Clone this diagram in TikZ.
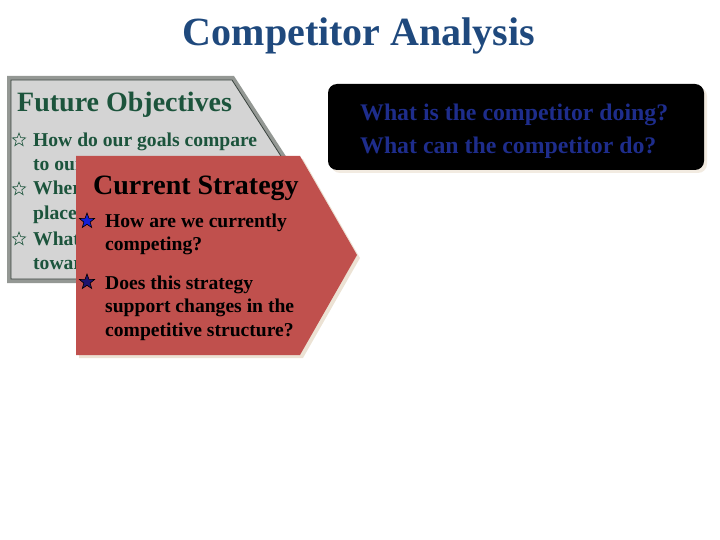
\documentclass[tikz,border=0pt]{standalone}
\usepackage{fontspec}
\setmainfont{Liberation Serif}
\usetikzlibrary{shapes.geometric}
\definecolor{titleblue}{RGB}{31,73,125}
\definecolor{fogreen}{RGB}{28,84,60}
\definecolor{bandgray}{RGB}{148,152,148}
\definecolor{edgedark}{RGB}{55,65,60}
\definecolor{boxgray}{RGB}{212,212,212}
\definecolor{cared}{RGB}{192,80,77}
\definecolor{shadowcream}{RGB}{236,226,212}
\definecolor{qblue}{RGB}{30,45,140}
\definecolor{starblue}{RGB}{20,30,215}
\definecolor{starnavy}{RGB}{30,20,110}
\tikzset{
  headtext/.style={anchor=base west,inner sep=0pt,font=\fontsize{28}{30}\selectfont\bfseries},
  bultext/.style={anchor=base west,inner sep=0pt,font=\fontsize{19.6}{24}\selectfont\bfseries},
  qtext/.style={anchor=base west,inner sep=0pt,text=qblue,font=\fontsize{23.8}{28}\selectfont\bfseries},
  hollowstar/.style={star,star points=5,star point ratio=2.4,minimum size=14pt,inner sep=0pt,draw=fogreen,line width=0.6pt},
  fullstar/.style={star,star points=5,star point ratio=2.4,minimum size=16pt,inner sep=0pt,draw=black,line width=0.6pt}
}
\begin{document}
\begin{tikzpicture}[x=1pt,y=-1pt]
\useasboundingbox (0,0) rectangle (720,540);
% title
\node[anchor=base,inner sep=0pt,text=titleblue,font=\fontsize{40}{44}\selectfont\bfseries] (title) at (359,46) {Competitor Analysis};
% future objectives box
\fill[bandgray] (7,76) -- (234,76) -- (301,179.5) -- (234,283) -- (7,283) -- cycle;
\draw[edgedark,fill=boxgray,line width=0.8pt] (11,80) -- (232,80) -- (296,179.5) -- (232,279) -- (11,279) -- cycle;
\node[headtext,text=fogreen] (fo) at (17,112) {Future Objectives};
\node[hollowstar] (s1) at (19,140) {};
\node[bultext,text=fogreen] (fo1) at (33,147) {How do our goals compare};
\node[bultext,text=fogreen] (fo2) at (33,171) {to our};
\node[hollowstar] (s2) at (19,189) {};
\node[bultext,text=fogreen] (fo3) at (33,195) {Where};
\node[bultext,text=fogreen] (fo4) at (33,219) {place};
\node[hollowstar] (s3) at (19,239) {};
\node[bultext,text=fogreen] (fo5) at (33,245) {What};
\node[bultext,text=fogreen] (fo6) at (33,269) {toward};
% current strategy box
\fill[shadowcream] (79,159) -- (303,159) -- (360,258) -- (303,358) -- (79,358) -- cycle;
\fill[cared] (76,156) -- (300,156) -- (357,255) -- (300,355) -- (76,355) -- cycle;
\node[headtext,text=black] (cs) at (93,195) {Current Strategy};
\node[fullstar,fill=starblue] (b1) at (87,221) {};
\node[bultext,text=black] (cs1) at (105,228) {How are we currently};
\node[bultext,text=black] (cs2) at (105,251) {competing?};
\node[fullstar,fill=starnavy] (b2) at (87,282) {};
\node[bultext,text=black] (cs3) at (105,289) {Does this strategy};
\node[bultext,text=black] (cs4) at (105,312) {support changes in the};
\node[bultext,text=black] (cs5) at (105,336) {competitive structure?};
% question box
\fill[shadowcream!70!white,rounded corners=9pt] (331,87) rectangle (707,173);
\fill[black,rounded corners=9pt] (328,84) rectangle (704,170);
\node[qtext] (q1) at (360,121) {What is the competitor doing?};
\node[qtext] (q2) at (360,154) {What can the competitor do?};
\end{tikzpicture}
\end{document}
